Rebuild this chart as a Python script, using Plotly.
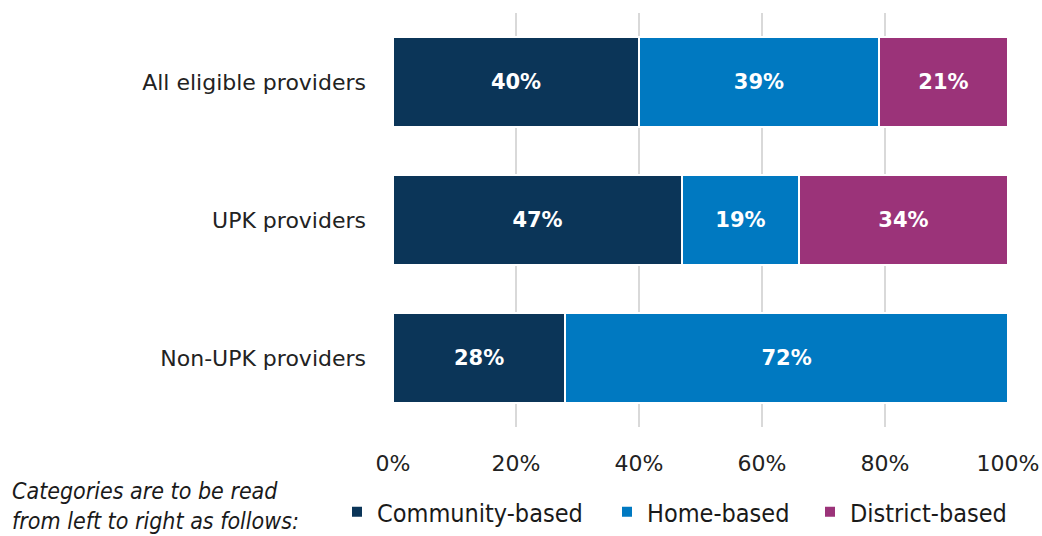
import plotly.graph_objects as go

# Provider groups (top to bottom) and the share of each setting type
groups = ["All eligible providers", "UPK providers", "Non-UPK providers"]
community = [40, 47, 28]
home = [39, 19, 72]
district = [21, 34, 0]

series = [
    ("Community-based", community, "#0b3558"),
    ("Home-based", home, "#0079c1"),
    ("District-based", district, "#9b3379"),
]

LABEL_FONT = "DejaVu Sans"
NARROW_FONT = "DejaVu Sans Condensed, DejaVu Sans"

# each series gets its own legend box so the keys sit in one row
legend_ids = ["legend", "legend2", "legend3"]
legend_x = [337, 607, 810]

fig = go.Figure()
for (name, vals, color), lid in zip(series, legend_ids):
    fig.add_trace(go.Bar(
        name=name,
        y=groups,
        x=vals,
        orientation="h",
        legend=lid,
        marker=dict(color=color, line=dict(color="white", width=2)),
        text=[f"{v}%" if v > 0 else "" for v in vals],
        textposition="inside",
        insidetextanchor="middle",
        textfont=dict(family=LABEL_FONT, size=21, color="white", weight="bold"),
        hoverinfo="skip",
    ))

legend_style = dict(
    orientation="h",
    xref="container", yref="container",
    xanchor="left",
    y=1 - 512 / 536, yanchor="middle",
    font=dict(family=NARROW_FONT, size=25, color="#1a1a1a"),
    itemwidth=30,
    bgcolor="rgba(0,0,0,0)",
)

fig.update_layout(
    barmode="stack",
    bargap=0.35,
    width=1042,
    height=536,
    margin=dict(l=393, r=34, t=13, b=109, autoexpand=False),
    paper_bgcolor="white",
    plot_bgcolor="white",
    font=dict(family=LABEL_FONT, size=22, color="#222222"),
    showlegend=True,
    xaxis=dict(
        range=[0, 100],
        tickvals=[0, 20, 40, 60, 80, 100],
        ticktext=["0%", "20%", "40%", "60%", "80%", "100%"],
        showgrid=True,
        gridcolor="#d9d9d9",
        gridwidth=2,
        zeroline=False,
        showline=False,
        ticks="",
        ticklabelstandoff=21,
        tickfont=dict(family=LABEL_FONT, size=22, color="#222222"),
        fixedrange=True,
    ),
    yaxis=dict(
        categoryorder="array",
        categoryarray=groups[::-1],
        showgrid=False,
        showline=False,
        ticks="",
        ticklabelstandoff=26,
        tickfont=dict(family=LABEL_FONT, size=22, color="#222222"),
        fixedrange=True,
    ),
    annotations=[
        dict(
            text="<i>Categories are to be read<br>from left to right as follows:</i>",
            xref="paper", yref="paper",
            x=-383 / 615, y=-0.19,
            xanchor="left", yanchor="middle",
            align="left",
            showarrow=False,
            font=dict(family=NARROW_FONT, size=23, color="#1a1a1a"),
        )
    ],
)
for lid, lx in zip(legend_ids, legend_x):
    fig.update_layout({lid: dict(legend_style, x=lx / 1042)})

fig.write_html("out.html")
